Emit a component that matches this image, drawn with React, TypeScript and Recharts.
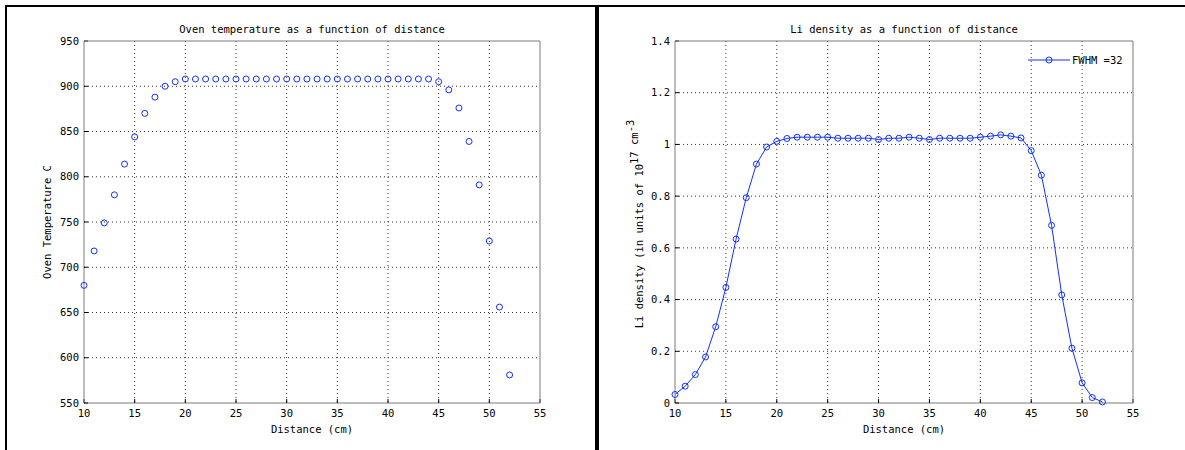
import React from "react";
import {
  ScatterChart,
  Scatter,
  LineChart,
  Line,
  XAxis,
  YAxis,
  CartesianGrid,
} from "recharts";

const distance = [
  10, 11, 12, 13, 14, 15, 16, 17, 18, 19, 20, 21, 22, 23, 24, 25, 26, 27, 28,
  29, 30, 31, 32, 33, 34, 35, 36, 37, 38, 39, 40, 41, 42, 43, 44, 45, 46, 47,
  48, 49, 50, 51, 52,
];

const ovenTemp = [
  680, 718, 749, 780, 814, 844, 870, 888, 900, 905, 908, 908, 908, 908, 908,
  908, 908, 908, 908, 908, 908, 908, 908, 908, 908, 908, 908, 908, 908, 908,
  908, 908, 908, 908, 908, 905, 896, 876, 839, 791, 729, 656, 581,
];

const liDensity = [
  0.033, 0.065, 0.11, 0.178, 0.295, 0.447, 0.634, 0.794, 0.924, 0.99, 1.012,
  1.023, 1.028, 1.028, 1.028, 1.028, 1.024, 1.024, 1.024, 1.024, 1.019, 1.024,
  1.024, 1.028, 1.024, 1.019, 1.024, 1.024, 1.024, 1.024, 1.028, 1.032, 1.037,
  1.032, 1.025, 0.976, 0.881, 0.687, 0.418, 0.212, 0.078, 0.021, 0.004,
];

const xTicks = [10, 15, 20, 25, 30, 35, 40, 45, 50, 55];
const tempTicks = [550, 600, 650, 700, 750, 800, 850, 900, 950];
const densityTicks = [0, 0.2, 0.4, 0.6, 0.8, 1, 1.2, 1.4];

const FONT = "'DejaVu Sans Mono', monospace";
const BLUE = "#1030ff";
const FRAME = "#7a7a7a";

const tempRows = distance.map((d, i) => ({ x: d, y: ovenTemp[i] }));
const densityRows = distance.map((d, i) => ({ x: d, y: liDensity[i] }));

const tickStyle = { fill: "#000", fontSize: 10.5, fontFamily: FONT };

const HollowDot = (props: any) => {
  const { cx, cy } = props;
  if (cx == null || cy == null) return null;
  return <circle cx={cx} cy={cy} r={3} fill="none" stroke={BLUE} strokeWidth={1} />;
};

const NoDot = () => null;

// extra axes on top/right: frame line + inward ticks, no labels
function frameAxes(xDomain: number[], yDomain: number[], yTicks: number[]) {
  return [
    <XAxis
      key="top"
      xAxisId="top"
      orientation="top"
      type="number"
      dataKey="x"
      domain={xDomain}
      ticks={xTicks}
      interval={0}
      height={1}
      tick={false}
      tickSize={-4}
      allowDataOverflow
      axisLine={{ stroke: FRAME }}
      tickLine={{ stroke: "#000" }}
    />,
    <YAxis
      key="right"
      yAxisId="right"
      orientation="right"
      type="number"
      dataKey="y"
      domain={yDomain}
      ticks={yTicks}
      interval={0}
      width={1}
      tick={false}
      tickSize={-4}
      allowDataOverflow
      axisLine={{ stroke: FRAME }}
      tickLine={{ stroke: "#000" }}
    />,
  ];
}

const TempChart = () => (
  <ScatterChart
    width={590}
    height={450}
    margin={{ top: 40, right: 49, left: 0, bottom: 17 }}
  >
    <CartesianGrid
      stroke="#333"
      strokeDasharray="1 3"
      horizontalValues={tempTicks.slice(1, -1)}
      verticalValues={xTicks.slice(1, -1)}
    />
    <XAxis
      type="number"
      dataKey="x"
      domain={[10, 55]}
      ticks={xTicks}
      interval={0}
      height={30}
      tickSize={-4}
      tickMargin={11}
      tick={tickStyle}
      axisLine={{ stroke: FRAME }}
      tickLine={{ stroke: "#000" }}
    />
    <YAxis
      type="number"
      dataKey="y"
      domain={[550, 950]}
      ticks={tempTicks}
      interval={0}
      width={84}
      tickSize={-4}
      tickMargin={9}
      tick={tickStyle}
      axisLine={{ stroke: FRAME }}
      tickLine={{ stroke: "#000" }}
    />
    {frameAxes([10, 55], [550, 950], tempTicks)}
    <Scatter
      data={tempRows}
      xAxisId="top"
      yAxisId="right"
      shape={NoDot}
      isAnimationActive={false}
    />
    <Scatter data={tempRows} shape={HollowDot} isAnimationActive={false} />
  </ScatterChart>
);

const DensityChart = () => (
  <LineChart
    width={590}
    height={450}
    data={densityRows}
    margin={{ top: 40, right: 51, left: 0, bottom: 17 }}
  >
    <CartesianGrid
      stroke="#333"
      strokeDasharray="1 3"
      horizontalValues={densityTicks.slice(1, -1)}
      verticalValues={xTicks.slice(1, -1)}
    />
    <XAxis
      type="number"
      dataKey="x"
      domain={[10, 55]}
      ticks={xTicks}
      interval={0}
      height={30}
      tickSize={-4}
      tickMargin={11}
      tick={tickStyle}
      axisLine={{ stroke: FRAME }}
      tickLine={{ stroke: "#000" }}
    />
    <YAxis
      type="number"
      domain={[0, 1.4]}
      ticks={densityTicks}
      interval={0}
      width={80}
      tickSize={-4}
      tickMargin={9}
      tick={tickStyle}
      tickFormatter={(v: number) => String(v)}
      axisLine={{ stroke: FRAME }}
      tickLine={{ stroke: "#000" }}
    />
    {frameAxes([10, 55], [0, 1.4], densityTicks)}
    <Line
      xAxisId="top"
      yAxisId="right"
      type="linear"
      dataKey="y"
      stroke="none"
      dot={false}
      activeDot={false}
      isAnimationActive={false}
    />
    <Line
      type="linear"
      dataKey="y"
      stroke={BLUE}
      strokeWidth={1}
      dot={<HollowDot />}
      activeDot={false}
      isAnimationActive={false}
    />
  </LineChart>
);

const textProps = { fontFamily: FONT, fontSize: 10.5, fill: "#000" };

const Labels = () => (
  <svg
    width={1185}
    height={450}
    style={{ position: "absolute", left: 0, top: 0, pointerEvents: "none" }}
  >
    <text x={312} y={33} textAnchor="middle" {...textProps}>
      Oven temperature as a function of distance
    </text>
    <text x={312} y={433} textAnchor="middle" {...textProps}>
      Distance (cm)
    </text>
    <text x={51} y={222} textAnchor="middle" transform="rotate(-90 51 222)" {...textProps}>
      Oven Temperature C
    </text>

    <text x={904} y={33} textAnchor="middle" {...textProps}>
      Li density as a function of distance
    </text>
    <text x={904} y={433} textAnchor="middle" {...textProps}>
      Distance (cm)
    </text>
    <text x={643} y={224} textAnchor="middle" transform="rotate(-90 643 224)" {...textProps}>
      Li density (in units of 10
      <tspan dy={-5}>17 cm</tspan>
      <tspan dy={-4}>-3</tspan>
    </text>

    {/* legend */}
    <line x1={1028} y1={60} x2={1070} y2={60} stroke={BLUE} strokeWidth={1} />
    <circle cx={1049} cy={60} r={3} fill="none" stroke={BLUE} strokeWidth={1} />
    <text x={1072} y={64} {...textProps}>
      FWHM =32
    </text>
  </svg>
);

export default function App() {
  return (
    <div
      style={{
        position: "absolute",
        left: 0,
        top: 0,
        width: 1185,
        height: 450,
        background: "#fff",
        overflow: "hidden",
      }}
    >
      <div style={{ position: "absolute", left: 0, top: 0 }}>
        <TempChart />
      </div>
      <div style={{ position: "absolute", left: 595, top: 0 }}>
        <DensityChart />
      </div>
      <Labels />
      <div style={{ position: "absolute", left: 5, top: 5, width: 1180, height: 2, background: "#000" }} />
      <div style={{ position: "absolute", left: 5, top: 5, width: 2, height: 445, background: "#000" }} />
      <div style={{ position: "absolute", left: 595, top: 5, width: 4, height: 445, background: "#000" }} />
    </div>
  );
}
